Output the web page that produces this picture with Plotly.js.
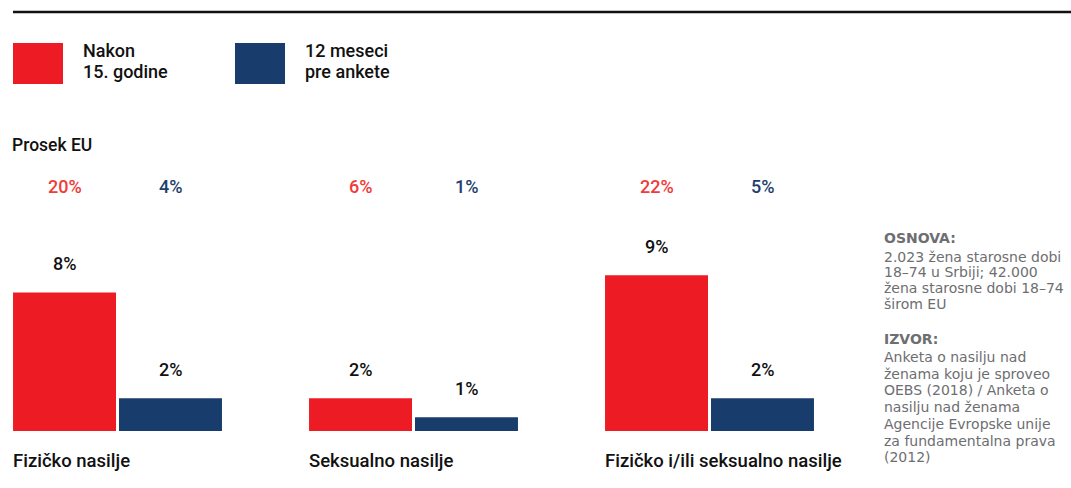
<!DOCTYPE html>
<html>
<head>
<meta charset="utf-8">
<script src="https://cdn.plot.ly/plotly-3.0.1.min.js"></script>
<style>html,body{margin:0;padding:0;background:#fff;}#chart{width:1071px;height:488px;}</style>
</head>
<body>
<div id="chart"></div>
<script>
// ---- data ----
const categories = ['Fizičko nasilje', 'Seksualno nasilje', 'Fizičko i/ili seksualno nasilje'];
const seriesNames = ['Nakon 15. godine', '12 meseci pre ankete'];
const legendLines = [['Nakon', '15. godine'], ['12 meseci', 'pre ankete']];
const serbiaAfter15 = [8, 1.9, 9];
const serbiaLast12 = [1.9, 0.8, 1.9];
const euAfter15 = [20, 6, 22];
const euLast12 = [4, 1, 5];
const euLabel = 'Prosek EU';
const noteOsnovaTitle = 'OSNOVA:';
const noteOsnova = ['2.023 žena starosne dobi', '18–74 u Srbiji; 42.000', 'žena starosne dobi 18–74', 'širom EU'];
const noteIzvorTitle = 'IZVOR:';
const noteIzvor = ['Anketa o nasilju nad', 'ženama koju je sproveo', 'OEBS (2018) / Anketa o', 'nasilju nad ženama', 'Agencije Evropske unije', 'za fundamentalna prava', '(2012)'];

// ---- style ----
const W = 1071, H = 488, T = 0, B = 57;
const PH = H - T - B;
const RED = '#ED1C24', BLUE = '#183D6D';
const RED_T = '#EF3B3A', BLUE_T = '#1E3F6E';
const FONT = 'Roboto, "Liberation Sans", Arial, sans-serif';
const NOTE_FONT = '"DejaVu Sans", "Liberation Sans", Arial, sans-serif';
const INK = '#111';
const px = x => x / W;
const py = y => 1 - (y - T) / PH;
const pct = v => Math.round(v) + '%';

const xs = categories.map((c, i) => i);
const groupPx = 296;
const barOff = 53 / groupPx;

const traces = [
  {type: 'bar', name: seriesNames[0], x: xs, y: serbiaAfter15, marker: {color: RED, line: {width: 0}}, hoverinfo: 'skip'},
  {type: 'bar', name: seriesNames[1], x: xs, y: serbiaLast12, marker: {color: BLUE, line: {width: 0}}, hoverinfo: 'skip'}
];

const ann = [];
const shapes = [];
const txt = (text, x, y, size, color, anchor, xref, yref, extra) => Object.assign({
  text: text, x: x, y: y, xref: xref || 'paper', yref: yref || 'paper',
  xanchor: anchor || 'left', yanchor: 'middle', showarrow: false,
  xshift: (anchor || 'left') === 'left' ? -2 : 0,
  font: {family: FONT, size: size, color: color, weight: 500}
}, extra || {});

// bar value labels
xs.forEach(i => {
  ann.push(txt(pct(serbiaAfter15[i]), i - barOff, serbiaAfter15[i], 18, INK, 'center', 'x', 'y', {yshift: 29}));
  ann.push(txt(pct(serbiaLast12[i]), i + barOff, serbiaLast12[i], 18, INK, 'center', 'x', 'y', {yshift: 29}));
  ann.push(txt(pct(euAfter15[i]), i - barOff, py(186), 18, RED_T, 'center', 'x', 'paper'));
  ann.push(txt(pct(euLast12[i]), i + barOff, py(186), 18, BLUE_T, 'center', 'x', 'paper'));
  ann.push(txt(categories[i], i - 104.5 / groupPx, py(461), 18.5, INK, 'left', 'x', 'paper'));
});

ann.push(txt(euLabel, px(12), py(145), 17.5, INK));

// legend
const legColors = [RED, BLUE];
const legX = [13, 235];
legendLines.forEach((lines, k) => {
  shapes.push({type: 'rect', xref: 'paper', yref: 'paper', x0: px(legX[k]), x1: px(legX[k] + 50), y0: py(84), y1: py(43), fillcolor: legColors[k], line: {width: 0}});
  lines.forEach((l, j) => ann.push(txt(l, px(legX[k] + 70), py(50 + j * 21.5), 18, INK)));
});

// top rule
shapes.push({type: 'line', xref: 'paper', yref: 'paper', x0: px(13), x1: 1, y0: py(12), y1: py(12), line: {color: '#111', width: 2.5}});

// notes
const GRAY = '#6D6E71';
const noteTxt = (t, y, bold) => txt(bold ? '<b>' + t + '</b>' : t, px(884), py(y), 14, GRAY, 'left', 'paper', 'paper', {font: {family: NOTE_FONT, size: 14, color: GRAY}});
ann.push(noteTxt(noteOsnovaTitle, 238, true));
noteOsnova.forEach((l, j) => ann.push(noteTxt(l, 256.5 + j * 15.8)));
ann.push(noteTxt(noteIzvorTitle, 339, true));
noteIzvor.forEach((l, j) => ann.push(noteTxt(l, 357 + j * 16.7)));

const layout = {
  width: W, height: H,
  margin: {l: 0, r: 0, t: T, b: B, pad: 0},
  paper_bgcolor: '#fff', plot_bgcolor: '#fff',
  showlegend: false,
  barmode: 'group', bargap: 0.284, bargroupgap: 0.0283,
  xaxis: {range: [-117.5 / groupPx, -117.5 / groupPx + W / groupPx], showgrid: false, zeroline: false, showticklabels: false, ticks: '', fixedrange: true},
  yaxis: {range: [0, PH / 17.3], showgrid: false, zeroline: false, showticklabels: false, ticks: '', fixedrange: true},
  annotations: ann,
  shapes: shapes
};

Plotly.newPlot('chart', traces, layout, {displayModeBar: false, staticPlot: true});
</script>
</body>
</html>
